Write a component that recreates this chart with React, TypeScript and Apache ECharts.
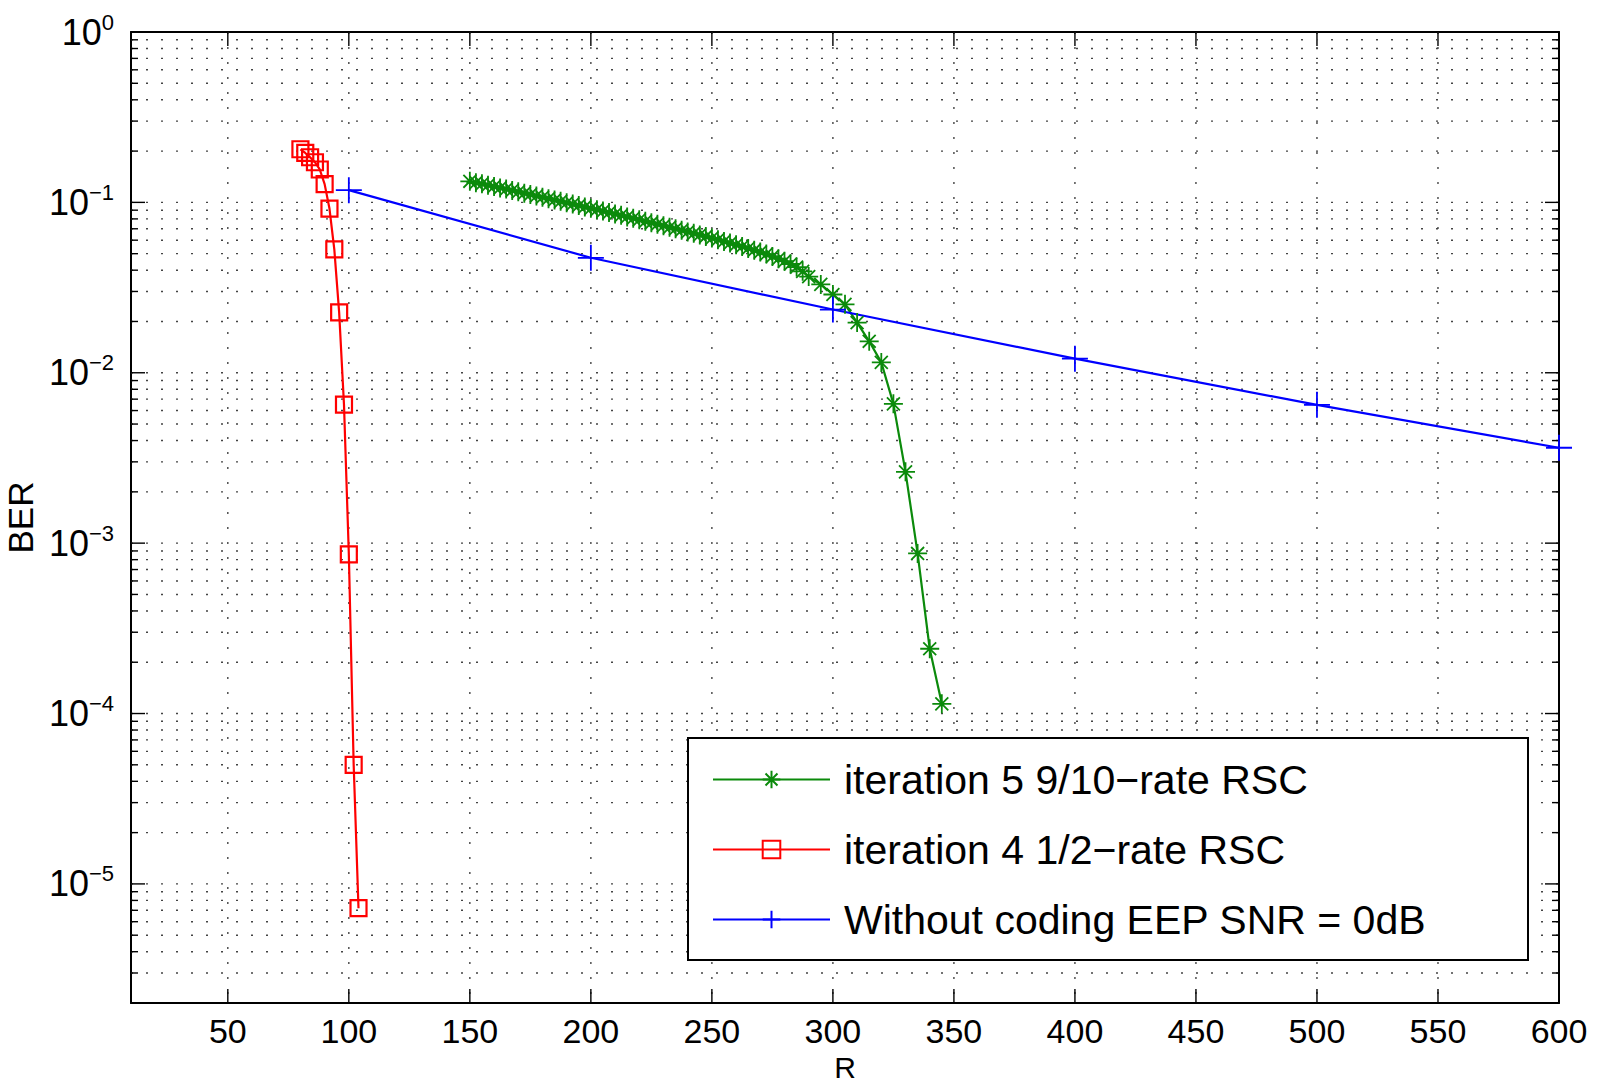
import React, { useEffect, useRef } from "react";
import * as echarts from "echarts";

const X_MIN = 10;
const X_MAX = 600;
const Y_MIN = 2e-6;
const Y_MAX = 1;

const xTickValues = [50, 100, 150, 200, 250, 300, 350, 400, 450, 500, 550, 600];
const yDecades = [1e-6, 1e-5, 1e-4, 1e-3, 1e-2, 1e-1];
const yMantissas = [1, 2, 3, 4, 5, 6, 7, 8, 9];

const seriesNames = [
  "iteration 5 9/10\u2212rate RSC",
  "iteration 4 1/2\u2212rate RSC",
  "Without coding EEP SNR = 0dB",
];

const greenX = [
  150, 152.5, 155, 157.5, 160, 162.5, 165, 167.5, 170, 172.5, 175, 177.5, 180, 182.5, 185, 187.5,
  190, 192.5, 195, 197.5, 200, 202.5, 205, 207.5, 210, 212.5, 215, 217.5, 220, 222.5, 225, 227.5,
  230, 232.5, 235, 237.5, 240, 242.5, 245, 247.5, 250, 252.5, 255, 257.5, 260, 262.5, 265, 267.5,
  270, 272.5, 275, 277.5, 280, 282.5, 285, 287.5, 290, 295, 300, 305, 310, 315, 320, 325, 330, 335,
  340, 345,
];
const greenY = [
  0.133, 0.1306, 0.1285, 0.1262, 0.1239, 0.1216, 0.1197, 0.1175, 0.1153, 0.1132, 0.1112, 0.1091,
  0.1072, 0.1052, 0.1033, 0.1014, 0.0995, 0.0977, 0.0959, 0.094, 0.0923, 0.0906, 0.0889, 0.0871,
  0.0855, 0.0839, 0.0822, 0.0807, 0.0791, 0.0774, 0.0759, 0.0745, 0.0729, 0.0714, 0.07, 0.0686,
  0.0671, 0.0658, 0.0644, 0.0631, 0.0617, 0.0604, 0.059, 0.0577, 0.0564, 0.0551, 0.0537, 0.0524,
  0.0511, 0.0497, 0.0482, 0.0467, 0.0452, 0.0435, 0.0417, 0.0394, 0.0367, 0.033, 0.0288, 0.0252,
  0.0197, 0.0153, 0.0115, 0.00657, 0.00262, 0.00087, 0.00024, 0.000114,
];

const redX = [80, 82, 84, 86, 88, 90, 92, 94, 96, 98, 100, 102, 104];
const redY = [0.205, 0.195, 0.184, 0.172, 0.156, 0.128, 0.092, 0.053, 0.0226, 0.0065, 0.00086, 0.00005, 0.0000072];

const blueX = [100, 200, 300, 400, 500, 600];
const blueY = [0.118, 0.0473, 0.0235, 0.0121, 0.00648, 0.00363];

const FONT = "'Liberation Sans', Arial, Helvetica, sans-serif";

const zip = (xs: number[], ys: number[]) => xs.map((x, i) => [x, ys[i]]);

const isDecade = (v: number) => {
  const l = Math.log10(v);
  return Math.abs(l - Math.round(l)) < 1e-6;
};

const GRID_DOT = { stroke: "#444", lineWidth: 1.4, lineDash: [2, 13] };
const TICK = { stroke: "#000", lineWidth: 1.4 };

export default function App() {
  const ref = useRef<HTMLDivElement>(null);

  useEffect(() => {
    document.body.style.margin = "0";
    if (!ref.current) return;
    const chart = echarts.init(ref.current, undefined, { renderer: "svg" });

    const yGridValues: number[] = [];
    yDecades.forEach((d) =>
      yMantissas.forEach((m) => {
        const v = m * d;
        if (v > Y_MIN * 1.0001 && v < Y_MAX * 0.9999) yGridValues.push(v);
      })
    );

    const starPath = "path://M5,0L5,10M0,5L10,5M1.6,1.6L8.4,8.4M1.6,8.4L8.4,1.6";
    const squarePath = "path://M0,0L10,0L10,10L0,10Z";
    const plusPath = "path://M5,0L5,10M0,5L10,5";

    const option: any = {
      animation: false,
      backgroundColor: "#fff",
      grid: { left: 131, right: 42, top: 32, bottom: 80, containLabel: false, outerBoundsMode: "none" },
      xAxis: [
        {
          type: "value",
          min: X_MIN,
          max: X_MAX,
          interval: 10,
          position: "bottom",
          axisLine: { show: true, lineStyle: { color: "#000", width: 2 } },
          axisTick: { show: false },
          splitLine: { show: false },
          axisLabel: {
            formatter: (v: number) => (xTickValues.indexOf(Math.round(v)) >= 0 && Math.abs(v - Math.round(v)) < 1e-6 ? String(Math.round(v)) : ""),
            fontSize: 34,
            fontFamily: FONT,
            color: "#000",
            margin: 11,
          },
          name: "R",
          nameLocation: "middle",
          nameGap: 41,
          nameTextStyle: { fontSize: 30, fontFamily: FONT, color: "#000" },
        },
        {
          type: "value",
          min: X_MIN,
          max: X_MAX,
          interval: 10,
          position: "top",
          axisLine: { show: true, lineStyle: { color: "#000", width: 2 } },
          axisTick: { show: false },
          splitLine: { show: false },
          axisLabel: { show: false },
        },
      ],
      yAxis: [
        {
          type: "log",
          logBase: 10,
          min: Y_MIN,
          max: Y_MAX,
          position: "left",
          axisLine: { show: true, lineStyle: { color: "#000", width: 2 } },
          axisTick: { show: false },
          minorTick: { show: false },
          splitLine: { show: false },
          axisLabel: {
            formatter: (v: number) => {
              if (!isDecade(v)) return "";
              const e = Math.round(Math.log10(v));
              const es = e < 0 ? "\u2212" + String(-e) : String(e);
              return "{b|10}{s|" + es + "}";
            },
            margin: 17,
            rich: {
              b: { fontSize: 36, fontFamily: FONT, color: "#000", verticalAlign: "middle" },
              s: { fontSize: 22, fontFamily: FONT, color: "#000", verticalAlign: "middle", padding: [0, 0, 20, 0] },
            },
          },
          name: "BER",
          nameLocation: "middle",
          nameGap: 82,
          nameRotate: 90,
          nameTextStyle: { fontSize: 35, fontFamily: FONT, color: "#000" },
        },
        {
          type: "log",
          logBase: 10,
          min: Y_MIN,
          max: Y_MAX,
          position: "right",
          axisLine: { show: true, lineStyle: { color: "#000", width: 2 } },
          axisTick: { show: false },
          minorTick: { show: false },
          splitLine: { show: false },
          axisLabel: { show: false },
        },
      ],
      legend: {
        data: seriesNames,
        orient: "vertical",
        left: 712,
        top: 759,
        itemWidth: 117,
        itemHeight: 22,
        itemGap: 29,
        padding: 0,
        selectedMode: false,
        textStyle: { fontSize: 41, fontFamily: FONT, color: "#000", padding: [0, 0, 0, 9] },
        z: 5,
      },
      graphic: [
        {
          type: "rect",
          z: 4,
          silent: true,
          shape: { x: 688, y: 738, width: 840, height: 222 },
          style: { fill: "#fff", stroke: "#000", lineWidth: 2 },
        },
      ],
      series: [
        {
          type: "custom",
          name: "vgrid",
          silent: true,
          z: 1,
          xAxisIndex: 0,
          yAxisIndex: 0,
          data: xTickValues.map((v) => [v, Y_MAX]),
          renderItem: (params: any, api: any) => {
            const x = api.value(0);
            const top = api.coord([x, Y_MAX]);
            const bot = api.coord([x, Y_MIN]);
            const children: any[] = [];
            if (x < X_MAX) {
              children.push({ type: "line", shape: { x1: top[0], y1: top[1], x2: bot[0], y2: bot[1] }, style: GRID_DOT });
            }
            children.push({ type: "line", shape: { x1: bot[0], y1: bot[1], x2: bot[0], y2: bot[1] - 14 }, style: TICK });
            children.push({ type: "line", shape: { x1: top[0], y1: top[1], x2: top[0], y2: top[1] + 14 }, style: TICK });
            return { type: "group", children };
          },
        },
        {
          type: "custom",
          name: "hgrid",
          silent: true,
          z: 1,
          xAxisIndex: 0,
          yAxisIndex: 0,
          data: yGridValues.map((v) => [X_MIN, v]),
          renderItem: (params: any, api: any) => {
            const y = api.value(1);
            const l = api.coord([X_MIN, y]);
            const r = api.coord([X_MAX, y]);
            const len = isDecade(y) ? 14 : 7;
            return {
              type: "group",
              children: [
                { type: "line", shape: { x1: l[0], y1: l[1], x2: r[0], y2: r[1] }, style: GRID_DOT },
                { type: "line", shape: { x1: l[0], y1: l[1], x2: l[0] + len, y2: l[1] }, style: TICK },
                { type: "line", shape: { x1: r[0], y1: r[1], x2: r[0] - len, y2: r[1] }, style: TICK },
              ],
            };
          },
        },
        {
          type: "custom",
          name: "topticks",
          silent: true,
          z: 1,
          xAxisIndex: 0,
          yAxisIndex: 0,
          data: [[X_MIN, Y_MAX]],
          renderItem: (params: any, api: any) => {
            const l = api.coord([X_MIN, Y_MAX]);
            const r = api.coord([X_MAX, Y_MAX]);
            return {
              type: "group",
              children: [
                { type: "line", shape: { x1: l[0], y1: l[1], x2: l[0] + 14, y2: l[1] }, style: TICK },
                { type: "line", shape: { x1: r[0], y1: r[1], x2: r[0] - 14, y2: r[1] }, style: TICK },
              ],
            };
          },
        },
        {
          type: "line",
          name: seriesNames[0],
          data: zip(greenX, greenY),
          symbol: starPath,
          symbolSize: 19,
          symbolKeepAspect: true,
          showAllSymbol: true,
          lineStyle: { color: "#0b8a0b", width: 2.2 },
          itemStyle: { color: "rgba(0,0,0,0)", borderColor: "#0b8a0b", borderWidth: 1.8 },
          z: 3,
        },
        {
          type: "line",
          name: seriesNames[1],
          data: zip(redX, redY),
          symbol: squarePath,
          symbolSize: 16,
          symbolKeepAspect: true,
          showAllSymbol: true,
          lineStyle: { color: "#ff0000", width: 2.2 },
          itemStyle: { color: "rgba(0,0,0,0)", borderColor: "#ff0000", borderWidth: 2.2 },
          z: 3,
        },
        {
          type: "line",
          name: seriesNames[2],
          data: zip(blueX, blueY),
          symbol: plusPath,
          symbolSize: 26,
          symbolKeepAspect: true,
          showAllSymbol: true,
          lineStyle: { color: "#0000ff", width: 2.2 },
          itemStyle: { color: "rgba(0,0,0,0)", borderColor: "#0000ff", borderWidth: 1.8 },
          z: 3,
        },
      ],
    };

    chart.setOption(option);
    return () => chart.dispose();
  }, []);

  return <div ref={ref} style={{ width: 1601, height: 1083 }} />;
}
